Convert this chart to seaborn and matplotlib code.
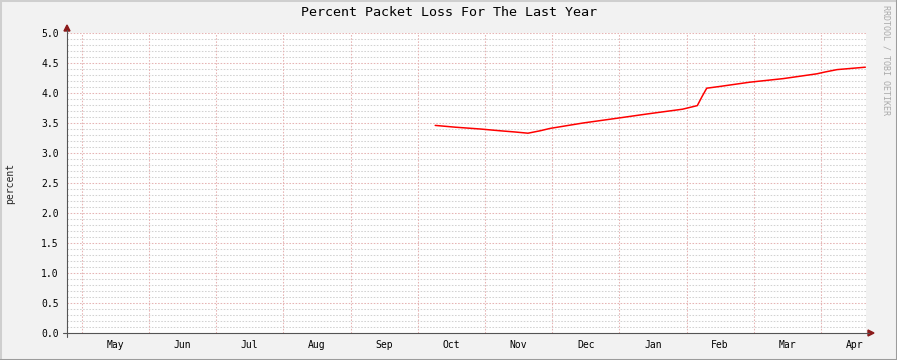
import matplotlib
matplotlib.use("Agg")
import matplotlib.pyplot as plt
from matplotlib.lines import Line2D
from matplotlib.patches import Polygon
from matplotlib.ticker import MultipleLocator, FixedLocator, NullFormatter
import seaborn as sns
import pandas as pd
import numpy as np

# ---- data (x in month units: 0 = start of May, 11 = start of Apr) ----
months = ["May", "Jun", "Jul", "Aug", "Sep", "Oct", "Nov", "Dec", "Jan", "Feb", "Mar", "Apr"]
month_pos = [5.26, 5.56, 5.93, 6.23, 6.45, 6.64, 6.82, 6.97, 7.46, 7.97, 8.41,
             8.94, 9.16, 9.23, 9.30, 9.50, 9.94, 10.44, 10.94, 11.06, 11.24, 11.66]
loss = [3.46, 3.43, 3.40, 3.37, 3.35, 3.33, 3.37, 3.41, 3.50, 3.58, 3.65,
        3.73, 3.79, 3.94, 4.08, 4.11, 4.18, 4.24, 4.32, 4.35, 4.39, 4.43]
y_ticks = [0.0, 0.5, 1.0, 1.5, 2.0, 2.5, 3.0, 3.5, 4.0, 4.5, 5.0]

df = pd.DataFrame({"month": month_pos, "percent": loss})

sns.set_style("white")
plt.rcParams["font.family"] = ["DejaVu Sans Mono", "DejaVu Sans"]

W, H = 897, 360
fig = plt.figure(figsize=(W / 100, H / 100), dpi=100)
fig.patch.set_facecolor("#F2F2F2")

L, R, T, B = 67, 866, 33, 333
ax = fig.add_axes([L / W, 1 - B / H, (R - L) / W, (B - T) / H])
ax.set_facecolor("white")

minor_c = "#D2D2D2"
major_c = "#E6B4B4"
ax.set_ylim(0, 5.0)
ax.set_xlim(-0.219, 11.67)

# grids
for v in np.arange(0.1, 5.0001, 0.1):
    is_major = abs(v * 2 - round(v * 2)) < 1e-6
    ax.axhline(v, color=major_c if is_major else minor_c, lw=0.75,
               ls=(0, (1.5, 1.5)), zorder=1)
for m in range(12):
    ax.axvline(m, color=major_c, lw=0.75, ls=(0, (1.5, 1.5)), zorder=1)

sns.lineplot(data=df, x="month", y="percent", ax=ax, color="#FF0000",
             lw=1.1, zorder=3, legend=False)

for s in ax.spines.values():
    s.set_visible(False)

ax.yaxis.set_major_locator(FixedLocator(y_ticks))
ax.set_yticklabels([f"{v:.1f}" for v in y_ticks])
ax.yaxis.set_minor_locator(MultipleLocator(0.1))
ax.tick_params(axis="y", which="major", length=4, width=0.7, color="#606060",
               direction="inout", labelsize=7, pad=4, labelcolor="black")
ax.tick_params(axis="y", which="minor", length=3, width=0.7, color="#909090",
               direction="inout")

ax.xaxis.set_major_locator(FixedLocator(list(range(12))))
ax.xaxis.set_major_formatter(NullFormatter())
ax.xaxis.set_minor_locator(FixedLocator([m + 0.5 for m in range(12)]))
ax.set_xticklabels(months, minor=True)
ax.tick_params(axis="x", which="major", length=5, width=0.7, color=major_c,
               direction="inout")
ax.tick_params(axis="x", which="minor", length=0, labelsize=7, pad=5,
               labelcolor="black")

ax.set_xlabel("")
ax.set_ylabel("percent", fontsize=7, labelpad=19)

# axis lines with arrows (figure pixel coords)
def fx(px):
    return px / W

def fy(py):
    return 1 - py / H

axis_c = "#555555"
fig.add_artist(Line2D([fx(67), fx(67)], [fy(337), fy(30)], color=axis_c, lw=0.8))
fig.add_artist(Line2D([fx(63), fx(869)], [fy(333), fy(333)], color=axis_c, lw=0.8))
arrow_c = "#8B1A1A"
fig.add_artist(Polygon([[fx(64), fy(31)], [fx(70), fy(31)], [fx(67), fy(25)]],
                       closed=True, color=arrow_c, transform=fig.transFigure))
fig.add_artist(Polygon([[fx(868), fy(330)], [fx(868), fy(336)], [fx(874), fy(333)]],
                       closed=True, color=arrow_c, transform=fig.transFigure))

# title and watermark
fig.text(0.5, fy(13), "Percent Packet Loss For The Last Year", ha="center",
         va="center", fontsize=9.6, color="black")
fig.text(fx(886), fy(60), "RRDTOOL / TOBI OETIKER", rotation=270, ha="center",
         va="center", fontsize=6, color="#AAAAAA")

# 3D border
fig.add_artist(Line2D([0, 0], [0, 1], color="#CFCFCF", lw=2.2))
fig.add_artist(Line2D([0, 1], [1, 1], color="#CFCFCF", lw=2.2))
fig.add_artist(Line2D([1, 1], [0, 1], color="#9C9C9C", lw=2.2))
fig.add_artist(Line2D([0, 1], [0, 0], color="#9C9C9C", lw=2.2))

fig.savefig("out.png", dpi=100, facecolor=fig.get_facecolor())
